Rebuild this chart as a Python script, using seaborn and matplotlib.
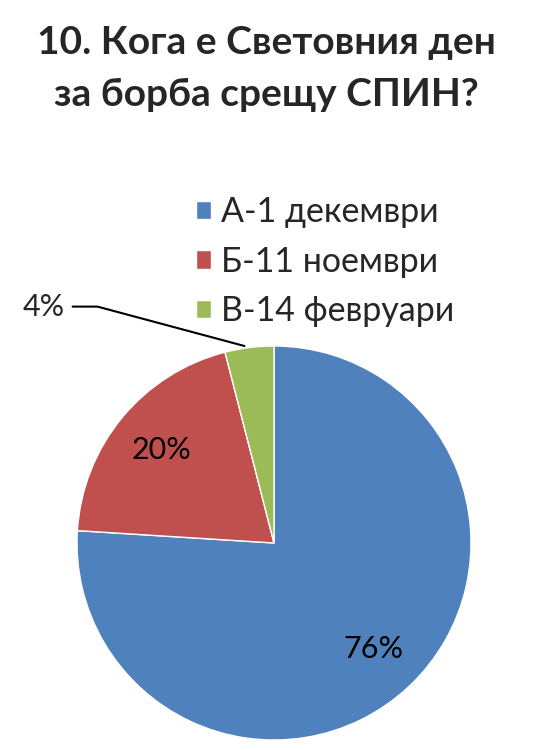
import matplotlib
matplotlib.use("Agg")
import matplotlib.pyplot as plt
import seaborn as sns

# data
labels = ["А-1 декември", "Б-11 ноември", "В-14 февруари"]
values = [76, 20, 4]
colors = ["#4F81BD", "#C0504D", "#9BBB59"]
title = "10. Кога е Световния ден\nза борба срещу СПИН?"

sns.set_style("white")
plt.rcParams["font.family"] = ["Lato", "DejaVu Sans"]

fig = plt.figure(figsize=(5.33, 7.5), dpi=100)
ax = fig.add_axes([77 / 533, 10 / 750, 394 / 533, 394 / 750])

wedges, texts, autotexts = ax.pie(
    values, colors=colors, startangle=90, counterclock=False,
    autopct="%d%%", pctdistance=0.74, radius=1,
    textprops={"fontsize": 22, "color": "black"},
)
ax.set_xlim(-1, 1)
ax.set_ylim(-1, 1)
ax.set_aspect("equal")

# small slice label sits outside with a leader line
autotexts[2].set_visible(False)
ax.annotate(f"{values[2]}%", xy=(-0.15, 1.0), xytext=(-1.06, 1.2),
            fontsize=22, ha="right", va="center",
            arrowprops=dict(arrowstyle="-", color="black", lw=1.5,
                            connectionstyle="angle,angleA=0,angleB=-15,rad=0",
                            shrinkA=3, shrinkB=0))

fig.legend(wedges, labels, loc="upper left", bbox_to_anchor=(172 / 533, 1 - 172 / 750),
           frameon=False, fontsize=24.5, handlelength=0.45, handleheight=0.45,
           handletextpad=0.3, labelspacing=0.52, borderpad=0.2)

fig.suptitle(title, fontsize=28, fontweight="bold", y=0.967, linespacing=1.6)

fig.savefig("out.png", dpi=100)
